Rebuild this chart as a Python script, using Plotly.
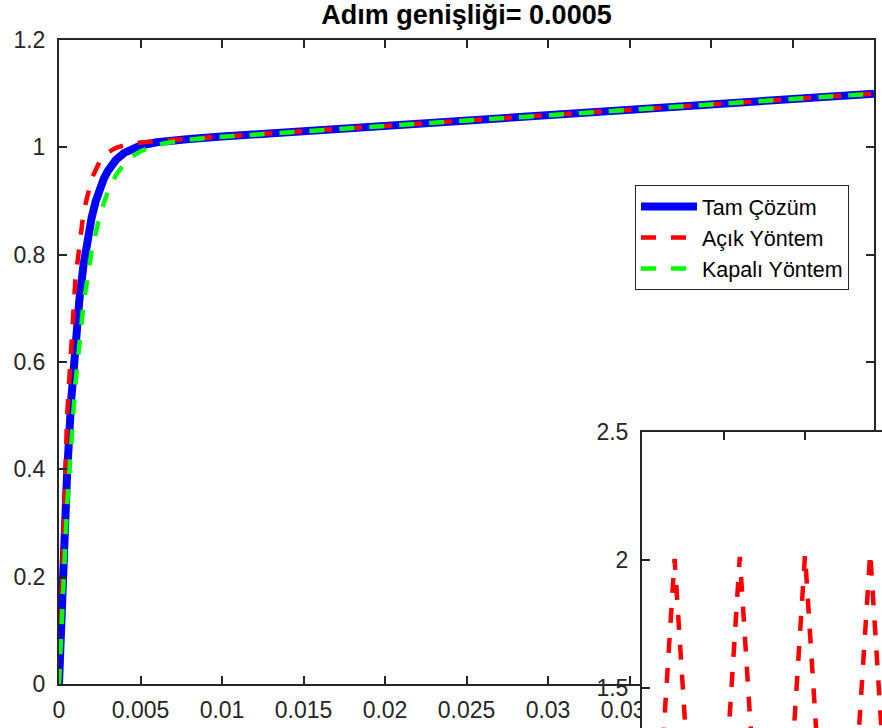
import plotly.graph_objects as go

# ---- data ----
t_exact = [0, 0.00025, 0.0005, 0.00075, 0.001, 0.00125, 0.0015, 0.00175, 0.002, 0.00225,
           0.0025, 0.00275, 0.003, 0.0035, 0.004, 0.0045, 0.005, 0.006, 0.007, 0.008,
           0.01, 0.02, 0.03, 0.04, 0.05]
y_exact = [0, 0.2217, 0.3945, 0.5291, 0.6341, 0.7160, 0.7799, 0.8297, 0.8687, 0.8991,
           0.9229, 0.9416, 0.9562, 0.9768, 0.9897, 0.9979, 1.0033, 1.0095, 1.0131, 1.0157,
           1.0200, 1.04, 1.06, 1.08, 1.10]

t_step = [0, 0.0005, 0.001, 0.0015, 0.002, 0.0025, 0.003, 0.0035, 0.004, 0.0045, 0.005,
          0.0055, 0.006, 0.0065, 0.007, 0.008, 0.01, 0.02, 0.03, 0.04, 0.05]
y_explicit = [0, 0.501, 0.752, 0.878, 0.9415, 0.9738, 0.9904, 0.9992, 1.0041, 1.0070, 1.0090,
              1.0105, 1.0118, 1.0129, 1.0139, 1.0160, 1.0200, 1.04, 1.06, 1.08, 1.10]
y_implicit = [0, 0.3343, 0.5576, 0.7067, 0.8065, 0.8733, 0.9182, 0.9485, 0.9690, 0.9830, 0.9927,
              0.9994, 1.0043, 1.0079, 1.0106, 1.0145, 1.0197, 1.04, 1.06, 1.08, 1.10]

t_inset = [0, 0.002, 0.004, 0.006, 0.008, 0.010, 0.012, 0.014, 0.016]
y_inset_explicit = [0, 2.004, 0.008, 2.012, 0.016, 2.020, 0.024, 2.028, 0.032]

x_tickvals = [0, 0.005, 0.01, 0.015, 0.02, 0.025, 0.03, 0.035, 0.04, 0.045, 0.05]
x_ticktext = ["0", "0.005", "0.01", "0.015", "0.02", "0.025", "0.03", "0.035", "0.04", "0.045", "0.05"]
y_tickvals = [0, 0.2, 0.4, 0.6, 0.8, 1.0, 1.2]
y_ticktext = ["0", "0.2", "0.4", "0.6", "0.8", "1", "1.2"]
y2_tickvals = [1.5, 2.0, 2.5]
y2_ticktext = ["1.5", "2", "2.5"]

title_text = "Adım genişliği= 0.0005"
names = ["Tam Çözüm", "Açık Yöntem", "Kapalı Yöntem"]

# ---- layout geometry (pixels) ----
W, H = 882, 728
FONT = "Liberation Sans, Arial, Helvetica, sans-serif"
AX = "#262626"
DASH = "15px,15px"

fig = go.Figure()
fig.add_trace(go.Scatter(x=t_exact, y=y_exact, mode="lines", name=names[0],
                         line=dict(color="#0000FF", width=8), xaxis="x", yaxis="y"))
fig.add_trace(go.Scatter(x=t_step, y=y_explicit, mode="lines", name=names[1],
                         line=dict(color="#FF0000", width=4.5, dash=DASH), xaxis="x", yaxis="y"))
fig.add_trace(go.Scatter(x=t_step, y=y_implicit, mode="lines", name=names[2],
                         line=dict(color="#00FF00", width=4.5, dash=DASH), xaxis="x", yaxis="y"))
fig.add_trace(go.Scatter(x=t_inset, y=y_inset_explicit, mode="lines", showlegend=False,
                         line=dict(color="#FF0000", width=4.5, dash=DASH), xaxis="x2", yaxis="y2"))

main_l, main_r, main_t, main_b = 59, 874, 40, 684
ins_l, ins_t = 642, 432
px_per_x = (main_r - main_l) / 0.05
px_per_y2 = 256.0
x2_max = (W - ins_l) / px_per_x
y2_min = 2.5 - (H - ins_t) / px_per_y2

axis_common = dict(showline=True, linecolor=AX, linewidth=2, ticks="inside", ticklen=8,
                   tickwidth=1.5, tickcolor=AX, showgrid=False, zeroline=False, automargin=False,
                   tickfont=dict(family=FONT, size=23, color=AX))

fig.update_layout(
    width=W, height=H,
    margin=dict(l=0, r=0, t=0, b=0, autoexpand=False),
    paper_bgcolor="white", plot_bgcolor="white",
    font=dict(family=FONT, color=AX),
    title=dict(text="<b>" + title_text + "</b>", x=(main_l + main_r) / 2 / W, xanchor="center",
               y=1 - 15 / H, yanchor="middle", font=dict(family=FONT, size=27, color="black")),
    xaxis=dict(domain=[main_l / W, main_r / W], range=[0, 0.05], tickvals=x_tickvals,
               ticktext=x_ticktext, mirror="ticks", ticklabelstandoff=4, anchor="y", **axis_common),
    yaxis=dict(domain=[1 - main_b / H, 1 - main_t / H], range=[0, 1.2], tickvals=y_tickvals,
               ticktext=y_ticktext, mirror="ticks", ticklabelstandoff=7, anchor="x", **axis_common),
    xaxis2=dict(domain=[ins_l / W, 1], range=[0, x2_max], tickvals=[0.005, 0.01], side="top",
                showticklabels=False, anchor="y2", **axis_common),
    yaxis2=dict(domain=[0, 1 - ins_t / H], range=[y2_min, 2.5], tickvals=y2_tickvals,
                ticktext=y2_ticktext, ticklabelstandoff=7, anchor="x2", **axis_common),
    legend=dict(x=635 / W, y=1 - 185 / H, xanchor="left", yanchor="top",
                bgcolor="white", bordercolor=AX, borderwidth=1, itemwidth=56,
                entrywidth=218, entrywidthmode="pixels",
                font=dict(family=FONT, size=21.5, color="black"), tracegroupgap=0),
    showlegend=True,
)

fig.write_html("out.html", config={"displayModeBar": False},
               post_script="document.body.style.margin='0';document.body.style.overflow='hidden';")
